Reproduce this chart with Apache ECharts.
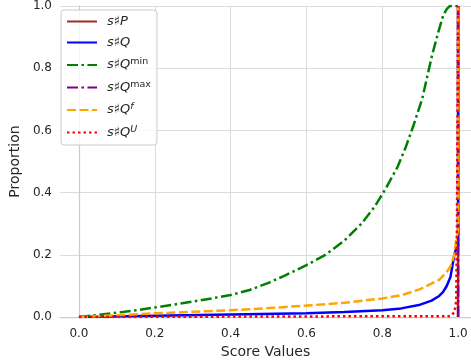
<!DOCTYPE html>
<html>
<head>
<meta charset="utf-8">
<script src="https://cdn.jsdelivr.net/npm/echarts@6/dist/echarts.min.js"></script>
<style>
  html, body { margin: 0; padding: 0; background: #fff; }
  #chart { width: 471px; height: 364px; }
</style>
</head>
<body>
<div id="chart"></div>
<script>
// 刻度
const xTicks = [0, 0.2, 0.4, 0.6, 0.8, 1.0];

// 各曲线的数据
const pX = [1.0, 1.0];
const pY = [0.0, 1.0];

const qX = [0, 0.2, 0.4, 0.6, 0.7, 0.8, 0.85, 0.9, 0.93, 0.95, 0.96, 0.97, 0.98, 0.985, 0.99, 0.995, 1.0, 1.0];
const qY = [0, 0.004, 0.008, 0.012, 0.016, 0.022, 0.028, 0.04, 0.053, 0.068, 0.08, 0.1, 0.13, 0.165, 0.2, 0.22, 0.23, 1.0];

const qMinX = [0, 0.05, 0.1, 0.15, 0.2, 0.25, 0.3, 0.35, 0.4, 0.45, 0.5, 0.54, 0.6, 0.65, 0.7, 0.745, 0.78, 0.81, 0.84, 0.86, 0.882, 0.905, 0.918, 0.931, 0.948, 0.961, 0.97, 0.978, 1.0];
const qMinY = [0, 0.007, 0.014, 0.022, 0.031, 0.04, 0.05, 0.06, 0.071, 0.087, 0.11, 0.132, 0.167, 0.2, 0.246, 0.3, 0.355, 0.415, 0.482, 0.54, 0.615, 0.7, 0.77, 0.84, 0.917, 0.971, 0.99, 1.0, 1.0];

const qMaxX = [1.0, 1.0];
const qMaxY = [0.0, 1.0];

const qfX = [0, 0.1, 0.2, 0.3, 0.4, 0.5, 0.6, 0.7, 0.8, 0.85, 0.9, 0.95, 0.97, 0.98, 0.99, 0.995, 1.0, 1.0];
const qfY = [0, 0.006, 0.012, 0.017, 0.022, 0.029, 0.037, 0.046, 0.06, 0.07, 0.09, 0.12, 0.145, 0.163, 0.2, 0.25, 0.28, 1.0];

const quX = [0, 0.5, 0.98, 0.99, 0.995, 0.997, 1.0];
const quY = [0, 0.002, 0.003, 0.015, 0.05, 0.3, 1.0];

function zip(xs, ys) {
  return xs.map((x, i) => [x, ys[i]]);
}

const names = ['sP', 'sQ', 'sQmin', 'sQmax', 'sQf', 'sQU'];
const legendText = {
  sP: '{i|s}{n|♯}{i|P}',
  sQ: '{i|s}{n|♯}{i|Q}',
  sQmin: '{i|s}{n|♯}{i|Q}{sup|min}',
  sQmax: '{i|s}{n|♯}{i|Q}{sup|max}',
  sQf: '{i|s}{n|♯}{i|Q}{supi|f}',
  sQU: '{i|s}{n|♯}{i|Q}{supi|U}'
};

const dashDot = [11, 3.5, 2.5, 3.5];
const dashed = [9, 3.5];
const dotted = [2.5, 3];

function lineSeries(name, xs, ys, color, type) {
  return {
    name: name,
    type: 'line',
    data: zip(xs, ys),
    symbol: 'none',
    animation: false,
    lineStyle: { color: color, width: 2.5, type: type },
    itemStyle: { color: color }
  };
}

const chart = echarts.init(document.getElementById('chart'));
const font = 'DejaVu Sans';

const option = {
  backgroundColor: '#fff',
  animation: false,
  textStyle: { fontFamily: font },
  grid: { left: 53, right: 0, top: 4, bottom: 46, containLabel: false },
  legend: {
    data: names,
    orient: 'vertical',
    left: 61,
    top: 10,
    padding: [5, 6, 6, 5],
    itemWidth: 30,
    itemHeight: 14,
    itemGap: 8,
    backgroundColor: 'rgba(255,255,255,0.8)',
    borderColor: '#cccccc',
    borderWidth: 1,
    borderRadius: 3,
    itemStyle: { opacity: 0 },
    formatter: name => legendText[name],
    textStyle: {
      color: '#262626',
      padding: [0, 0, 0, 5],
      rich: {
        i: { fontFamily: font, fontStyle: 'italic', fontSize: 13, lineHeight: 16, color: '#262626' },
        n: { fontFamily: font, fontSize: 13, lineHeight: 16, color: '#262626' },
        sup: { fontFamily: font, fontSize: 9.5, lineHeight: 16, verticalAlign: 'top', color: '#262626' },
        supi: { fontFamily: font, fontStyle: 'italic', fontSize: 9.5, lineHeight: 16, verticalAlign: 'top', color: '#262626' }
      }
    }
  },
  xAxis: {
    type: 'value',
    min: -0.05,
    max: 1.034,
    name: 'Score Values',
    nameLocation: 'middle',
    nameGap: 24,
    nameTextStyle: { fontSize: 14, color: '#262626', fontFamily: font },
    axisLine: { show: true, lineStyle: { color: '#cccccc', width: 1.25 } },
    axisTick: { show: false, customValues: xTicks },
    axisLabel: {
      customValues: xTicks,
      margin: 11,
      fontSize: 12,
      color: '#262626',
      fontFamily: font,
      formatter: v => v.toFixed(1)
    },
    splitLine: { show: true, lineStyle: { color: '#dcdcdc', width: 1 } }
  },
  yAxis: {
    type: 'value',
    min: 0,
    max: 1,
    interval: 0.2,
    name: 'Proportion',
    nameLocation: 'middle',
    nameGap: 31,
    nameTextStyle: { fontSize: 14, color: '#262626', fontFamily: font },
    axisLine: { show: true, lineStyle: { color: '#cccccc', width: 1.25 } },
    axisTick: { show: false },
    axisLabel: {
      margin: 8,
      fontSize: 12,
      color: '#262626',
      fontFamily: font,
      formatter: v => v.toFixed(1)
    },
    splitLine: { show: true, lineStyle: { color: '#dcdcdc', width: 1 } }
  },
  series: [
    lineSeries('sP', pX, pY, '#a52a2a', 'solid'),
    lineSeries('sQ', qX, qY, '#0000ff', 'solid'),
    lineSeries('sQmin', qMinX, qMinY, '#008000', dashDot),
    lineSeries('sQmax', qMaxX, qMaxY, '#800080', dashDot),
    lineSeries('sQf', qfX, qfY, '#ffa500', dashed),
    lineSeries('sQU', quX, quY, '#ff0000', dotted)
  ]
};

chart.setOption(option);
</script>
</body>
</html>
